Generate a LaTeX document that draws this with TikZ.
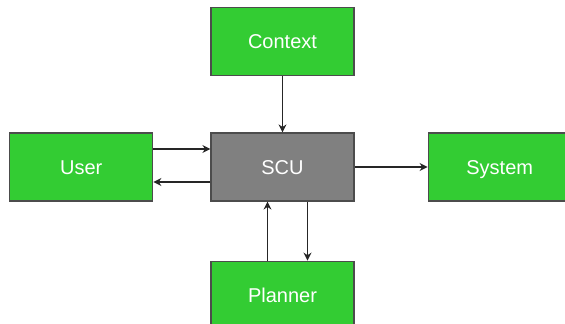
\documentclass[tikz,border=0pt]{standalone}
\usepackage{fontspec}
\setmainfont{Liberation Sans}
\usetikzlibrary{positioning,arrows.meta}
\definecolor{boxgreen}{RGB}{51,204,51}
\definecolor{boxgray}{RGB}{128,128,128}
\tikzset{
>={Stealth[length=4pt,width=4pt]},
every node/.style={font=\fontsize{10}{12}\selectfont, text=white},
block/.style={draw=black!70, line width=0.6pt, minimum width=71.5pt, minimum height=34pt, inner sep=0pt, text height=7.2pt, text depth=0pt},
greenbox/.style={block, fill=boxgreen},
graybox/.style={block, fill=boxgray},
link/.style={->, line width=0.7pt, draw=black!85},
}

\begin{document}
\begin{tikzpicture}
        \useasboundingbox (-141.25pt,-78.5pt) rectangle (141.25pt,83.5pt);
        \clip (-141.25pt,-78.5pt) rectangle (141.25pt,83.5pt);
        \node[graybox] (scu) at (0,0) {SCU};
        \node[greenbox,left=28.5pt of scu] (user) {User};
        \node[greenbox,right=36.5pt of scu] (system) {System};
        \node[greenbox,above=28pt of scu] (context) {Context};
        \node[greenbox,below=29.5pt of scu] (planner) {Planner};

        \draw[link] (context) -- (scu);
        \draw[link] ([yshift=9pt]user.east) -- ([yshift=9pt]scu.west);
        \draw[link] ([yshift=-7.5pt]scu.west) -- ([yshift=-7.5pt]user.east);
        \draw[link] (scu) -- (system);
        \draw[link] ([xshift=-7.5pt]planner.north) -- ([xshift=-7.5pt]scu.south);
        \draw[link] ([xshift=12.5pt]scu.south) -- ([xshift=12.5pt]planner.north);
    \end{tikzpicture}
\end{document}
